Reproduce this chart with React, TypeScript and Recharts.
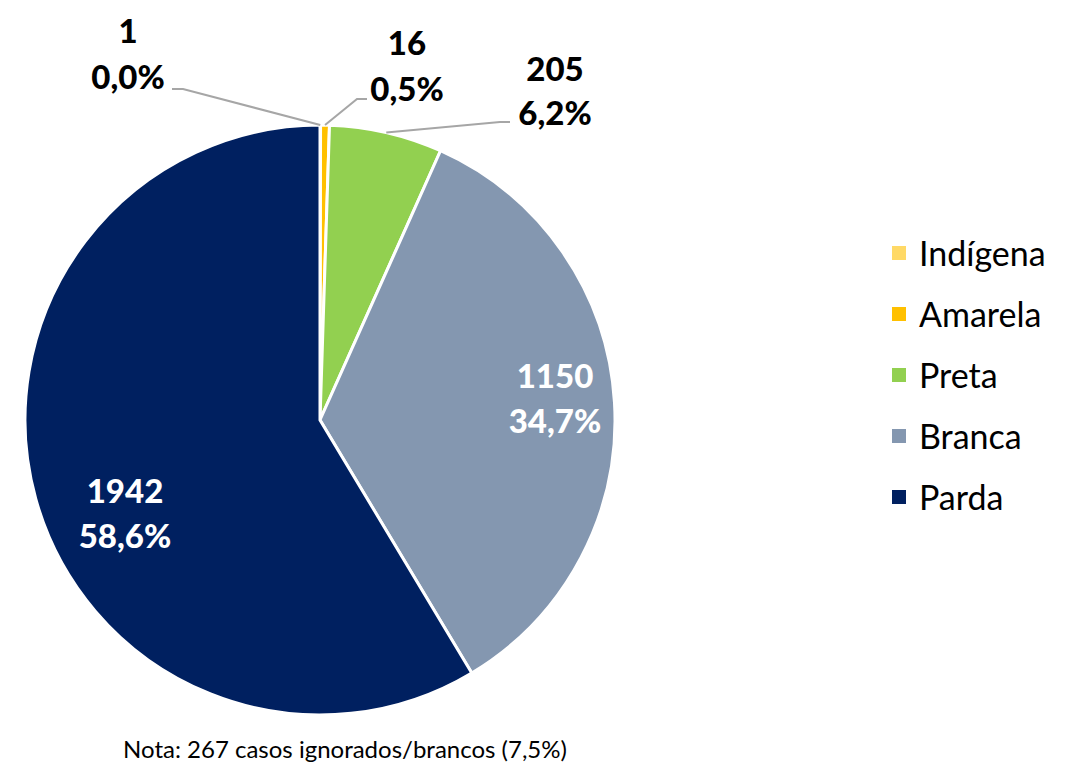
import React from "react";
import { PieChart, Pie, Cell, Legend } from "recharts";

const categories = ["Indígena", "Amarela", "Preta", "Branca", "Parda"];
const values = [1, 16, 205, 1150, 1942];
const colors = ["#FFD966", "#FFC000", "#92D050", "#8497B0", "#002060"];
const footnote = "Nota: 267 casos ignorados/brancos (7,5%)";

const data = categories.map((name, i) => ({ name, value: values[i] }));
const total = values.reduce((a, b) => a + b, 0);

const FONT = "Lato, 'Open Sans', sans-serif";

// Label layout offsets relative to pie center (layout only, not data)
const labelLayout: any[] = [
  { tx: -192, vy: -390, py: -344, inside: false, line: [[-148, -331], [-137, -331]] },
  { tx: 87, vy: -378, py: -332, inside: false, line: [[47, -321], [37, -321]] },
  { tx: 235, vy: -352, py: -308, inside: false, line: [[190, -298], [180, -298]] },
  { tx: 235, vy: -45, py: 0, inside: true },
  { tx: -195, vy: 70, py: 115, inside: true },
];

const fmtPct = (v: number) => ((v / total) * 100).toFixed(1).replace(".", ",") + "%";

const renderLabel = (props: any) => {
  const { cx, cy, outerRadius, midAngle, index, value } = props;
  const L = labelLayout[index];
  const RAD = Math.PI / 180;
  const ex = cx + outerRadius * Math.cos(-midAngle * RAD);
  const ey = cy + outerRadius * Math.sin(-midAngle * RAD);
  const fill = L.inside ? "#FFFFFF" : "#000000";
  return (
    <g key={`lbl-${index}`}>
      {!L.inside && (
        <polyline
          points={`${cx + L.line[0][0]},${cy + L.line[0][1]} ${cx + L.line[1][0]},${cy + L.line[1][1]} ${ex},${ey}`}
          fill="none"
          stroke="#A6A6A6"
          strokeWidth={2}
        />
      )}
      <text x={cx + L.tx} y={cy + L.vy} textAnchor="middle" dominantBaseline="central"
        fill={fill} fontFamily={FONT} fontWeight={900} fontSize={33}>
        {value}
      </text>
      <text x={cx + L.tx} y={cy + L.py} textAnchor="middle" dominantBaseline="central"
        fill={fill} fontFamily={FONT} fontWeight={900} fontSize={33}>
        {fmtPct(value)}
      </text>
    </g>
  );
};

const renderLegend = () => (
  <div style={{ fontFamily: FONT }}>
    {categories.map((c, i) => (
      <div key={c} style={{ display: "flex", alignItems: "center", height: 61 }}>
        <div style={{ width: 14, height: 14, background: colors[i], marginRight: 13 }} />
        <span style={{ fontSize: 34, color: "#000" }}>{c}</span>
      </div>
    ))}
  </div>
);

export default function App() {
  return (
    <div style={{ position: "absolute", left: 0, top: 0, width: 1084, height: 764, background: "#fff" }}>
      <PieChart width={1084} height={764} margin={{ top: 0, right: 0, bottom: 0, left: 0 }}>
        <Pie
          data={data}
          dataKey="value"
          nameKey="name"
          cx={320}
          cy={420}
          outerRadius={295}
          startAngle={90}
          endAngle={-270}
          stroke="#FFFFFF"
          strokeWidth={3}
          label={renderLabel}
          labelLine={false}
          isAnimationActive={false}
        >
          {data.map((d, i) => (
            <Cell key={d.name} fill={colors[i]} />
          ))}
        </Pie>
        <Legend
          layout="vertical"
          content={renderLegend}
          wrapperStyle={{ position: "absolute", left: 892, top: 222, width: 190 }}
        />
      </PieChart>
      <div
        style={{
          position: "absolute",
          left: 0,
          width: 690,
          top: 734,
          textAlign: "center",
          fontFamily: FONT,
          fontSize: 24,
          color: "#000",
        }}
      >
        {footnote}
      </div>
    </div>
  );
}
